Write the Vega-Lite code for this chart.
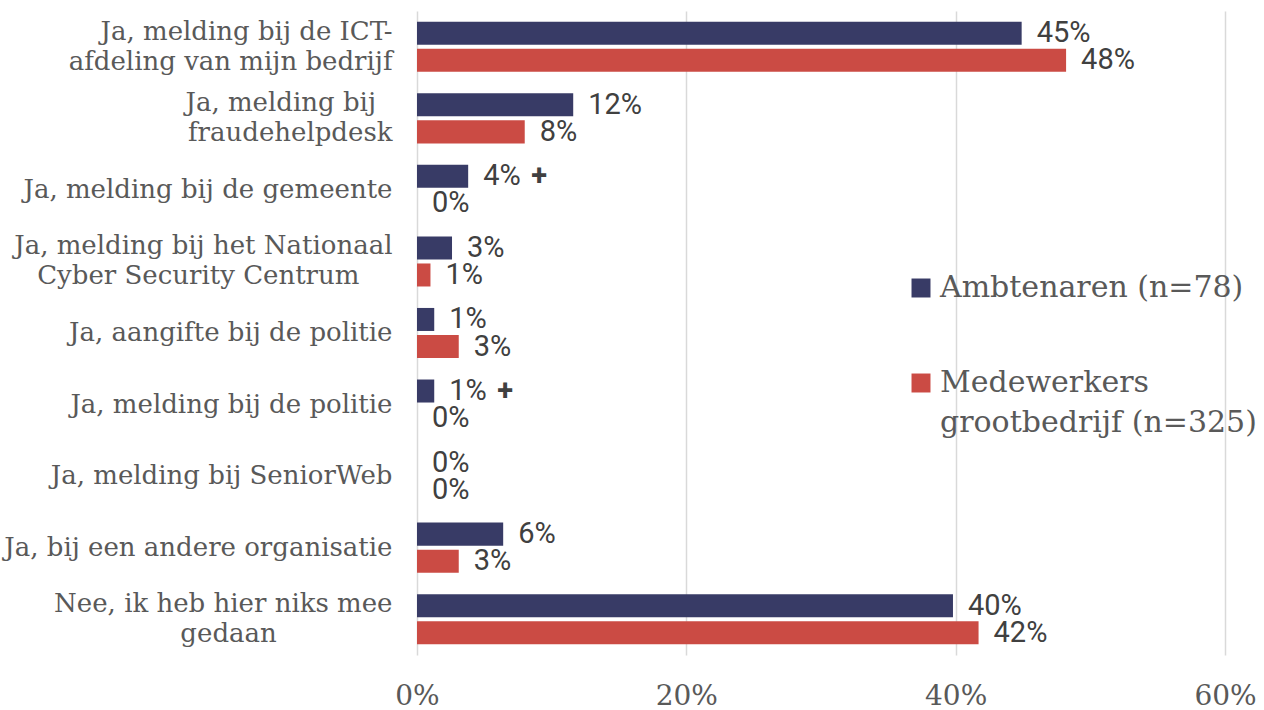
{
  "$schema": "https://vega.github.io/schema/vega-lite/v6.json",
  "autosize": "none",
  "padding": {"left": 417, "top": 11, "right": 39, "bottom": 55},
  "width": 808,
  "height": 644,
  "background": "white",
  "config": {
    "view": {"stroke": null},
    "style": {"guide-label": {"lineHeight": 40}}
  },
  "data": {
    "values": [
      {"cat": "Ja, melding bij de ICT-afdeling van mijn bedrijf", "series": "Ambtenaren (n=78)", "value": 0.449, "plus": false},
      {"cat": "Ja, melding bij fraudehelpdesk", "series": "Ambtenaren (n=78)", "value": 0.116, "plus": false},
      {"cat": "Ja, melding bij de gemeente", "series": "Ambtenaren (n=78)", "value": 0.038, "plus": true},
      {"cat": "Ja, melding bij het Nationaal Cyber Security Centrum", "series": "Ambtenaren (n=78)", "value": 0.026, "plus": false},
      {"cat": "Ja, aangifte bij de politie", "series": "Ambtenaren (n=78)", "value": 0.0128, "plus": false},
      {"cat": "Ja, melding bij de politie", "series": "Ambtenaren (n=78)", "value": 0.0128, "plus": true},
      {"cat": "Ja, melding bij SeniorWeb", "series": "Ambtenaren (n=78)", "value": 0, "plus": false},
      {"cat": "Ja, bij een andere organisatie", "series": "Ambtenaren (n=78)", "value": 0.064, "plus": false},
      {"cat": "Nee, ik heb hier niks mee gedaan", "series": "Ambtenaren (n=78)", "value": 0.398, "plus": false},
      {"cat": "Ja, melding bij de ICT-afdeling van mijn bedrijf", "series": "Medewerkers grootbedrijf (n=325)", "value": 0.482, "plus": false},
      {"cat": "Ja, melding bij fraudehelpdesk", "series": "Medewerkers grootbedrijf (n=325)", "value": 0.08, "plus": false},
      {"cat": "Ja, melding bij de gemeente", "series": "Medewerkers grootbedrijf (n=325)", "value": 0, "plus": false},
      {"cat": "Ja, melding bij het Nationaal Cyber Security Centrum", "series": "Medewerkers grootbedrijf (n=325)", "value": 0.01, "plus": false},
      {"cat": "Ja, aangifte bij de politie", "series": "Medewerkers grootbedrijf (n=325)", "value": 0.031, "plus": false},
      {"cat": "Ja, melding bij de politie", "series": "Medewerkers grootbedrijf (n=325)", "value": 0, "plus": false},
      {"cat": "Ja, melding bij SeniorWeb", "series": "Medewerkers grootbedrijf (n=325)", "value": 0, "plus": false},
      {"cat": "Ja, bij een andere organisatie", "series": "Medewerkers grootbedrijf (n=325)", "value": 0.031, "plus": false},
      {"cat": "Nee, ik heb hier niks mee gedaan", "series": "Medewerkers grootbedrijf (n=325)", "value": 0.417, "plus": false}
    ]
  },
  "encoding": {
    "y": {
      "field": "cat",
      "type": "nominal",
      "sort": null,
      "scale": {"paddingInner": 0.3, "paddingOuter": 0.15},
      "axis": {
        "title": null,
        "domain": false,
        "ticks": false,
        "grid": false,
        "labelPadding": 25,
        "labelFont": "DejaVu Serif",
        "labelFontSize": 26,
        "labelColor": "#595959",
        "labelLimit": 600,
        "labelLineHeight": 30,
        "labelBaseline": {
          "condition": {
            "test": "indexof(['Ja, melding bij de ICT-afdeling van mijn bedrijf', 'Ja, melding bij fraudehelpdesk', 'Ja, melding bij het Nationaal Cyber Security Centrum', 'Nee, ik heb hier niks mee gedaan'], datum.value) >= 0",
            "value": "line-bottom"
          },
          "value": "middle"
        },
        "labelExpr": "datum.value == 'Ja, melding bij de ICT-afdeling van mijn bedrijf' ? ['Ja, melding bij de ICT-', 'afdeling van mijn bedrijf'] : datum.value == 'Ja, melding bij fraudehelpdesk' ? ['Ja, melding bij\u00a0\u00a0\u200b', 'fraudehelpdesk'] : datum.value == 'Ja, melding bij het Nationaal Cyber Security Centrum' ? ['Ja, melding bij het Nationaal', 'Cyber Security Centrum\u00a0\u00a0\u00a0\u00a0\u200b'] : datum.value == 'Nee, ik heb hier niks mee gedaan' ? ['Nee, ik heb hier niks mee', 'gedaan\u00a0\u00a0\u00a0\u00a0\u00a0\u00a0\u00a0\u00a0\u00a0\u00a0\u00a0\u00a0\u00a0\u00a0\u200b'] : datum.label"
      }
    },
    "yOffset": {
      "field": "series",
      "type": "nominal",
      "sort": ["Ambtenaren (n=78)", "Medewerkers grootbedrijf (n=325)"],
      "scale": {"paddingInner": 0.15}
    },
    "x": {
      "field": "value",
      "type": "quantitative",
      "scale": {"domain": [0, 0.6], "nice": false},
      "axis": {
        "title": null,
        "values": [0, 0.2, 0.4, 0.6],
        "format": ".0%",
        "domain": false,
        "ticks": false,
        "grid": true,
        "gridColor": "#d9d9d9",
        "gridWidth": 1.5,
        "labelFont": "DejaVu Serif",
        "labelFontSize": 28,
        "labelColor": "#595959",
        "labelPadding": 27,
        "labelFlush": false
      }
    }
  },
  "layer": [
    {
      "mark": {"type": "bar"},
      "encoding": {
        "color": {
          "field": "series",
          "type": "nominal",
          "scale": {"domain": ["Ambtenaren (n=78)", "Medewerkers grootbedrijf (n=325)"], "range": ["#383B66", "#CB4B44"]},
          "legend": {
            "title": null,
            "orient": "none",
            "legendX": 489,
            "legendY": 262,
            "symbolType": "square",
            "symbolSize": 360,
            "symbolStrokeWidth": 0,
            "labelFont": "DejaVu Serif",
            "labelFontSize": 30,
            "labelColor": "#595959",
            "labelOffset": 4,
            "labelLimit": 600,
            "rowPadding": 65,
            "padding": 0,
            "labelExpr": "datum.label == 'Medewerkers grootbedrijf (n=325)' ? ['Medewerkers', 'grootbedrijf (n=325)'] : datum.label"
          }
        }
      }
    },
    {
      "mark": {"type": "text", "align": "left", "baseline": "middle", "dx": 15, "font": "Roboto", "fontSize": 29, "color": "#404040"},
      "encoding": {
        "text": {"field": "value", "type": "quantitative", "format": ".0%"}
      }
    },
    {
      "transform": [{"filter": "datum.plus"}],
      "mark": {"type": "text", "align": "center", "baseline": "middle", "dx": 71, "font": "Roboto", "fontSize": 29, "fontWeight": "bold", "color": "#404040"},
      "encoding": {
        "text": {"value": "+"}
      }
    }
  ]
}
